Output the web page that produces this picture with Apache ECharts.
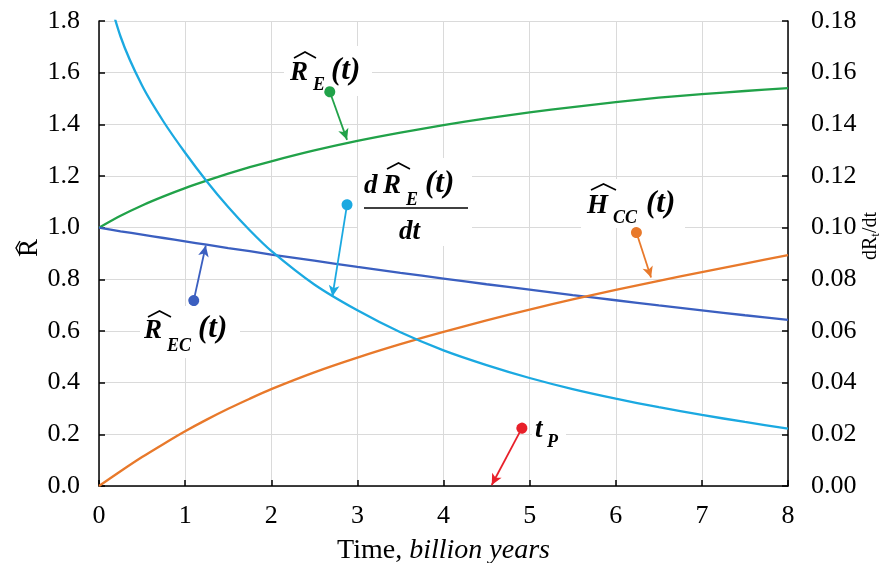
<!DOCTYPE html>
<html>
<head>
<meta charset="utf-8">
<script src="https://cdn.jsdelivr.net/npm/echarts@6/dist/echarts.min.js"></script>
<style>
  html, body { margin: 0; padding: 0; background: #fff; }
  #chart { width: 887px; height: 563px; }
</style>
</head>
<body>
<div id="chart"></div>
<script>
// Time axis (billion years)
const times = [0, 0.25, 0.5, 0.75, 1, 1.25, 1.5, 1.75, 2, 2.5, 3, 3.5, 4, 4.5, 5, 5.5, 6, 6.5, 7, 7.5, 8];

// R_E(t), left axis
const rE = [1.000, 1.046, 1.086, 1.121, 1.153, 1.182, 1.209, 1.234, 1.257, 1.299, 1.336, 1.368, 1.397, 1.423, 1.446, 1.467, 1.486, 1.503, 1.517, 1.529, 1.540];
// R_EC(t), left axis
const rEC = [1.000, 0.986, 0.973, 0.960, 0.947, 0.934, 0.921, 0.909, 0.896, 0.872, 0.848, 0.825, 0.803, 0.781, 0.760, 0.739, 0.719, 0.699, 0.680, 0.661, 0.643];
// H_CC(t), left axis
const hCC = [0.000, 0.057, 0.112, 0.163, 0.212, 0.257, 0.299, 0.338, 0.375, 0.440, 0.497, 0.549, 0.597, 0.641, 0.683, 0.722, 0.759, 0.794, 0.828, 0.861, 0.894];
// dR_E/dt, right axis
const dRE = [0.203, 0.174, 0.155, 0.141, 0.129, 0.118, 0.108, 0.099, 0.091, 0.078, 0.068, 0.0595, 0.0525, 0.0468, 0.0418, 0.0375, 0.0338, 0.0305, 0.0275, 0.0248, 0.0222];

// Present time t_P
const tPresent = 4.55;

// Callout arrows: [start (dot), end (arrow tip)] in data units of the left axis
const calloutREStart = [2.68, 1.526], calloutREEnd = [2.88, 1.340];
const calloutDREStart = [2.88, 1.089], calloutDREEnd = [2.71, 0.734];
const calloutRECStart = [1.10, 0.718], calloutRECEnd = [1.24, 0.931];
const calloutHCCStart = [6.24, 0.981], calloutHCCEnd = [6.41, 0.807];
const calloutTPStart = [4.91, 0.224], calloutTPEnd = [4.56, 0.004];

const C_GREEN = '#21a249';
const C_BLUE = '#3b5fc0';
const C_CYAN = '#1ba9e1';
const C_ORANGE = '#e8792b';
const C_RED = '#e8202a';

const SERIF = "'Liberation Serif', 'Times New Roman', serif";

const pairs = (vals) => times.map((t, i) => [t, vals[i]]);

function callout(start, end, color) {
  return [
    { coord: start, symbol: 'circle', symbolSize: 11, lineStyle: { color: color, width: 1.8, type: 'solid' }, itemStyle: { color: color } },
    { coord: end, symbol: 'arrow', symbolSize: [8, 11], itemStyle: { color: color } }
  ];
}

const chart = echarts.init(document.getElementById('chart'), null, { renderer: 'canvas' });

const lineBase = {
  type: 'line',
  showSymbol: false,
  smooth: 0.25,
  clip: true,
  emphasis: { disabled: true },
  animation: false
};

chart.setOption({
  animation: false,
  backgroundColor: '#ffffff',
  grid: { left: 99, right: 99, top: 21, bottom: 77, containLabel: false, outerBoundsMode: 'none' },
  xAxis: {
    type: 'value', min: 0, max: 8, interval: 1,
    axisLine: { lineStyle: { color: '#000', width: 1.5 } },
    axisTick: { inside: true, length: 6, lineStyle: { color: '#000', width: 1.5 } },
    axisLabel: { fontFamily: SERIF, fontSize: 26, color: '#000', margin: 17 },
    splitLine: { show: true, lineStyle: { color: '#dadada', width: 1 } },
    name: '{a|Time, }{b|billion years}',
    nameLocation: 'middle',
    nameGap: 51,
    nameTextStyle: {
      rich: {
        a: { fontFamily: SERIF, fontSize: 28, color: '#000' },
        b: { fontFamily: SERIF, fontSize: 28, fontStyle: 'italic', color: '#000' }
      }
    }
  },
  yAxis: [
    {
      type: 'value', min: 0, max: 1.8, interval: 0.2,
      axisLine: { show: true, lineStyle: { color: '#000', width: 1.5 } },
      axisTick: { show: true, inside: true, length: 6, lineStyle: { color: '#000', width: 1.5 } },
      axisLabel: { fontFamily: SERIF, fontSize: 26, color: '#000', margin: 19, formatter: v => v.toFixed(1) },
      splitLine: { show: true, lineStyle: { color: '#dadada', width: 1 } }
    },
    {
      type: 'value', min: 0, max: 0.18, interval: 0.02,
      position: 'right',
      axisLine: { show: true, lineStyle: { color: '#000', width: 1.5 } },
      axisTick: { show: true, inside: true, length: 6, lineStyle: { color: '#000', width: 1.5 } },
      axisLabel: { fontFamily: SERIF, fontSize: 26, color: '#000', margin: 23, formatter: v => v.toFixed(2) },
      splitLine: { show: false }
    }
  ],
  series: [
    Object.assign({}, lineBase, { name: 'R_E', data: pairs(rE), lineStyle: { width: 2.3, color: C_GREEN }, itemStyle: { color: C_GREEN } }),
    Object.assign({}, lineBase, { name: 'R_EC', data: pairs(rEC), lineStyle: { width: 2.3, color: C_BLUE }, itemStyle: { color: C_BLUE } }),
    Object.assign({}, lineBase, { name: 'H_CC', data: pairs(hCC), lineStyle: { width: 2.3, color: C_ORANGE }, itemStyle: { color: C_ORANGE } }),
    Object.assign({}, lineBase, { name: 'dR_E/dt', yAxisIndex: 1, data: pairs(dRE), lineStyle: { width: 2.3, color: C_CYAN }, itemStyle: { color: C_CYAN } }),
    {
      type: 'line', name: 'callouts', data: [], silent: true, z: 5,
      markLine: {
        silent: true, animation: false,
        label: { show: false },
        emphasis: { disabled: true },
        lineStyle: { type: 'solid' },
        data: [
          [{ xAxis: tPresent, symbol: 'none', lineStyle: { color: C_RED, width: 2.2, type: [7, 4] } },
           { xAxis: tPresent, symbol: 'none' }]
        ].concat([
          callout(calloutREStart, calloutREEnd, C_GREEN),
          callout(calloutDREStart, calloutDREEnd, C_CYAN),
          callout(calloutRECStart, calloutRECEnd, C_BLUE),
          callout(calloutHCCStart, calloutHCCEnd, C_ORANGE),
          callout(calloutTPStart, calloutTPEnd, C_RED)
        ])
      }
    }
  ]
});

// Formula label typography; (x, baseline) given in pixels
const LBL = { fontFamily: SERIF, fontStyle: 'italic', fontWeight: 'bold' };
const BIG = 27, PAREN = 31, SUB = 18;
function txt(x, baseline, text, size) {
  return {
    type: 'text', z: 20, silent: true,
    style: Object.assign({
      x: x, y: baseline - 0.31 * size, text: text, fill: '#000', fontSize: size,
      verticalAlign: 'middle', align: 'left'
    }, LBL)
  };
}
function hat(x0, x1, yTop, h) {
  return {
    type: 'polyline', z: 20, silent: true,
    shape: { points: [[x0, yTop + h], [(x0 + x1) / 2, yTop], [x1, yTop + h]] },
    style: { stroke: '#000', lineWidth: 1.6, fill: null }
  };
}
function whiteBox(x, y, w, h) {
  return { type: 'rect', z: 1, silent: true, shape: { x: x, y: y, width: w, height: h }, style: { fill: '#fff' } };
}

const g = [];
// R_E(t)
g.push(whiteBox(284, 46, 88, 50));
g.push(hat(294, 316, 52, 6));
g.push(txt(290, 81, 'R', BIG));
g.push(txt(313, 91, 'E', SUB));
g.push(txt(331, 81, '(t)', PAREN));

// dR_E(t)/dt
g.push(whiteBox(358, 158, 114, 88));
g.push(hat(387, 410, 163, 6));
g.push(txt(364, 194, 'd', BIG));
g.push(txt(383, 194, 'R', BIG));
g.push(txt(406, 206, 'E', SUB));
g.push(txt(425, 194, '(t)', PAREN));
g.push({ type: 'line', z: 20, silent: true, shape: { x1: 364, y1: 208, x2: 468, y2: 208 }, style: { stroke: '#000', lineWidth: 1.5 } });
g.push(txt(399, 240, 'dt', BIG));

// R_EC(t)
g.push(whiteBox(140, 306, 100, 52));
g.push(hat(148, 171, 311, 6));
g.push(txt(144, 339, 'R', BIG));
g.push(txt(167, 352, 'EC', SUB));
g.push(txt(198, 339, '(t)', PAREN));

// H_CC(t)
g.push(whiteBox(581, 179, 104, 49));
g.push(hat(591, 616, 184, 6));
g.push(txt(587, 214, 'H', BIG));
g.push(txt(613, 224, 'CC', SUB));
g.push(txt(646, 214, '(t)', PAREN));

// t_P
g.push(whiteBox(532, 416, 34, 36));
g.push(txt(535, 438, 't', BIG));
g.push(txt(547, 448, 'P', SUB));

// Left axis title: R with a hat, reading bottom to top
g.push({
  type: 'group', x: 30, y: 248, rotation: Math.PI / 2, silent: true,
  children: [
    { type: 'text', style: { x: 0, y: 0, text: 'R', fontFamily: SERIF, fontSize: 27, fill: '#000', align: 'center', verticalAlign: 'middle' } },
    { type: 'polyline', shape: { points: [[-7, -10], [0, -14], [7, -10]] }, style: { stroke: '#000', lineWidth: 1.4, fill: null } }
  ]
});

// Right axis title: dR_t/dt, reading bottom to top
g.push({
  type: 'text', x: 871, y: 236, rotation: Math.PI / 2, silent: true,
  style: {
    text: '{a|dR}{s|t}{a|/dt}',
    align: 'center', verticalAlign: 'middle',
    rich: {
      a: { fontFamily: SERIF, fontSize: 20, fill: '#000' },
      s: { fontFamily: SERIF, fontSize: 13, fill: '#000', padding: [10, 0, 0, 0] }
    }
  }
});

chart.setOption({ graphic: { elements: g } });
</script>
</body>
</html>
